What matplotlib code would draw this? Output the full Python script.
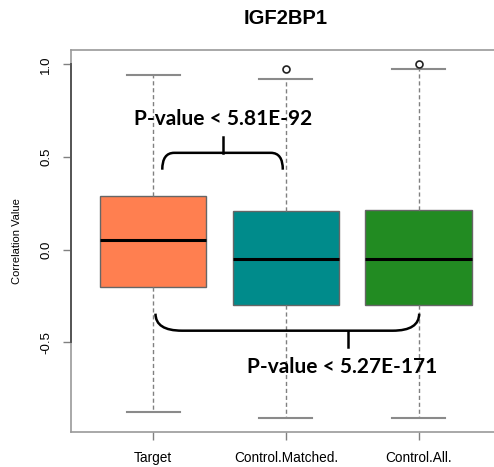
import numpy as np
import matplotlib
matplotlib.use("Agg")
import matplotlib.pyplot as plt
from matplotlib.path import Path
from matplotlib.patches import PathPatch

# box statistics
groups = ["Target", "Control.Matched.", "Control.All."]
whisker_low = [-0.879, -0.909, -0.909]
q1 = [-0.202, -0.300, -0.300]
median = [0.053, -0.051, -0.051]
q3 = [0.290, 0.209, 0.215]
whisker_high = [0.943, 0.920, 0.977]
outliers = [[], [0.976], [0.999]]
box_colors = ["#FF7F50", "#008B8B", "#228B22"]

yticks = [-0.5, 0.0, 0.5, 1.0]
pval_1 = "P-value < 5.81E-92"
pval_2 = "P-value < 5.27E-171"

plt.rcParams["font.family"] = ["Liberation Sans", "DejaVu Sans"]

fig = plt.figure(figsize=(4.94, 4.67), dpi=100)
ax = fig.add_axes([0.1437, 0.0749, 0.870, 0.818])

stats = []
for i, name in enumerate(groups):
    stats.append(dict(label=name, whislo=whisker_low[i], q1=q1[i], med=median[i],
                      q3=q3[i], whishi=whisker_high[i], fliers=outliers[i]))

positions = np.arange(1, len(groups) + 1)
bp = ax.bxp(stats, positions=positions, widths=0.8, patch_artist=True,
            boxprops=dict(edgecolor="#666666", linewidth=1.0),
            medianprops=dict(color="black", linewidth=2.2, solid_capstyle="butt"),
            whiskerprops=dict(color="#808080", linewidth=1.0, linestyle=(0, (3, 2))),
            capprops=dict(color="#8a8a8a", linewidth=1.5),
            capwidths=0.4,
            flierprops=dict(marker="o", markersize=5, markerfacecolor="none",
                            markeredgecolor="#222222", markeredgewidth=1.2))
for patch, c in zip(bp["boxes"], box_colors):
    patch.set_facecolor(c)
for med in bp["medians"]:
    med.set_zorder(4)

ax.set_xlim(0.38, 3.62)
ax.set_ylim(-0.985, 1.077)
ax.set_yticks(yticks)
ax.set_yticklabels([f"{t:.1f}" for t in yticks], rotation=90, va="center")
ax.set_xticks(positions)
ax.set_xticklabels(groups)
ax.tick_params(axis="y", length=5.5, width=1, color="#808080", pad=8, labelsize=9.5)
ax.tick_params(axis="x", length=5.5, width=1, color="#808080", pad=8, labelsize=9.8)
for s in ax.spines.values():
    s.set_color("#9a9a9a")
    s.set_linewidth(1.2)
# R-style axis line between first and last tick
ax.plot([0.38, 0.38], [yticks[0], yticks[-1]], color="#555555", lw=1.4,
        clip_on=False, zorder=5)

ax.set_ylabel("Correlation Value", fontsize=8, labelpad=13)
ax.set_title("IGF2BP1", fontsize=14.5, fontweight="bold", pad=19)


def brace(ax, x0, x1, y_end, y_bar, x_mid, y_tip, r):
    verts = [(x0, y_end), (x0, y_bar), (x0 + r, y_bar),
             (x1 - r, y_bar), (x1, y_bar), (x1, y_end)]
    codes = [Path.MOVETO, Path.CURVE3, Path.CURVE3,
             Path.LINETO, Path.CURVE3, Path.CURVE3]
    ax.add_patch(PathPatch(Path(verts, codes), facecolor="none",
                           edgecolor="black", lw=1.8, zorder=6))
    ax.plot([x_mid, x_mid], [y_bar, y_tip], color="black", lw=1.8, zorder=6)


brace(ax, 1.068, 1.977, 0.431, 0.522, 1.523, 0.607, 0.09)
brace(ax, 1.017, 3.005, -0.346, -0.438, 2.466, -0.526, 0.2)

ax.text(1.525, 0.706, pval_1, ha="center", va="center", fontsize=15,
        fontweight="bold", family=["Lato", "DejaVu Sans"])
ax.text(2.427, -0.634, pval_2, ha="center", va="center", fontsize=15,
        fontweight="bold", family=["Lato", "DejaVu Sans"])

fig.savefig("out.png", dpi=100)
